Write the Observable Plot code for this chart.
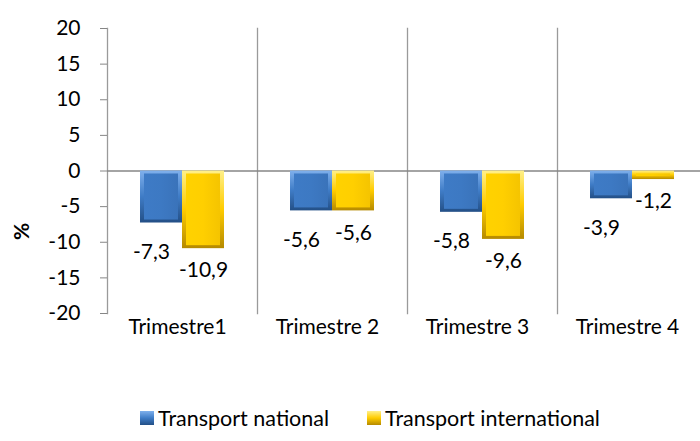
<!DOCTYPE html>
<html>
<head>
<meta charset="utf-8">
<script src="https://cdn.jsdelivr.net/npm/d3@7"></script>
<script src="https://cdn.jsdelivr.net/npm/@observablehq/plot@0.6"></script>
<style>
  html, body { margin: 0; padding: 0; background: #fff; }
  body { width: 700px; height: 441px; overflow: hidden; font-family: Lato, "Open Sans", sans-serif; }
  #legend { display: flex; justify-content: center; align-items: center; padding-top: 46px; font-size: 21.5px; color: #000; line-height: 24px; padding-left: 40px; }
  .item { display: flex; align-items: center; margin: 0 19px; }
  .key { width: 14px; height: 14px; margin-right: 4px; box-sizing: border-box; }
</style>
</head>
<body>
<div id="chart"></div>
<div id="legend"></div>
<script>
const quarters = ["Trimestre1", "Trimestre 2", "Trimestre 3", "Trimestre 4"];
const seriesNames = ["Transport national", "Transport international"];
const national = [-7.3, -5.6, -5.8, -3.9];
const international = [-10.9, -5.6, -9.6, -1.2];
const yTicks = [-20, -15, -10, -5, 0, 5, 10, 15, 20];

const fmt = v => d3.format(".1f")(v).replace(".", ",").replace("−", "-");
const rows = [];
quarters.forEach((q, i) => {
  rows.push({quarter: q, series: seriesNames[0], value: national[i]});
  rows.push({quarter: q, series: seriesNames[1], value: international[i]});
});

const outerFill = {[seriesNames[0]]: "url(#gBlueOuter)", [seriesNames[1]]: "url(#gYellowOuter)"};
const innerFill = {[seriesNames[0]]: "url(#gBlueInner)", [seriesNames[1]]: "url(#gYellowInner)"};
const FS = 21;

const plot = Plot.plot({
  width: 700,
  height: 360,
  marginTop: 28,
  marginBottom: 47,
  marginLeft: 107,
  marginRight: -7,
  style: {fontFamily: "Lato, 'Open Sans', sans-serif", fontSize: FS + "px", color: "#000", background: "transparent", overflow: "visible"},
  fx: {domain: quarters, padding: 0, label: null},
  x: {domain: seriesNames, paddingInner: 0, paddingOuter: 0.765, axis: null},
  y: {domain: [-20, 20], label: null},
  marks: [
    Plot.frame({anchor: "left", stroke: "#9a9a9a", strokeWidth: 1.3}),
    Plot.ruleY([0], {stroke: "#868686", strokeWidth: 1.5}),
    Plot.barY(rows, {fx: "quarter", x: "series", y1: 0, y2: "value", fill: d => outerFill[d.series]}),
    Plot.barY(rows, {fx: "quarter", x: "series", y1: 0, y2: "value", fill: d => innerFill[d.series], insetLeft: 4, insetRight: 4, insetTop: 3, insetBottom: 3}),
    Plot.text(rows.filter(d => d.series === seriesNames[0]), {fx: "quarter", x: "series", y: "value", text: d => fmt(d.value), dy: 29, dx: -10, fontSize: FS, fill: "#000"}),
    Plot.text(rows.filter(d => d.series === seriesNames[1]), {fx: "quarter", x: "series", y: "value", text: d => fmt(d.value), dy: 22, dx: 0, fontSize: FS, fill: "#000"}),
    Plot.axisY({ticks: yTicks, tickFormat: d => String(d).replace("−", "-"), tickSize: 7, tickPadding: 20, stroke: "#868686", fill: "#000", label: null, fontSize: FS}),
    Plot.axisFx({anchor: "bottom", tickSize: 0, tickPadding: 6, label: null, fontSize: FS, fill: "#000", dx: -5}),
    Plot.text(["%"], {frameAnchor: "left", facetAnchor: "left", dx: -85, dy: 69, rotate: -90, fontWeight: "bold", fontSize: FS, fill: "#000"})
  ]
});

const defs = d3.select(plot).insert("defs", ":first-child");
function vgrad(id, stops) {
  const g = defs.append("linearGradient").attr("id", id).attr("x1", 0).attr("y1", 0).attr("x2", 0).attr("y2", 1);
  stops.forEach(([o, c]) => g.append("stop").attr("offset", o).attr("stop-color", c));
}
function hgrad(id, stops) {
  const g = defs.append("linearGradient").attr("id", id).attr("x1", 0).attr("y1", 0).attr("x2", 1).attr("y2", 0);
  stops.forEach(([o, c]) => g.append("stop").attr("offset", o).attr("stop-color", c));
}
vgrad("gBlueOuter", [[0, "#7fb0ec"], [0.5, "#3f7cc6"], [1, "#234f86"]]);
hgrad("gBlueInner", [[0, "#3e7bc6"], [0.5, "#3d79c3"], [1, "#3a73ba"]]);
vgrad("gYellowOuter", [[0, "#fff08a"], [0.5, "#ffcc00"], [1, "#b58a00"]]);
hgrad("gYellowInner", [[0, "#ffd200"], [0.5, "#ffcf00"], [1, "#f5c400"]]);

document.getElementById("chart").appendChild(plot);

const legend = document.getElementById("legend");
const keyBg = {
  [seriesNames[0]]: "linear-gradient(#7fb0ec, #3f7cc6 50%, #234f86)",
  [seriesNames[1]]: "linear-gradient(#fff08a, #ffcc00 50%, #b58a00)"
};
seriesNames.forEach(s => {
  const item = document.createElement("div");
  item.className = "item";
  const key = document.createElement("span");
  key.className = "key";
  key.style.background = keyBg[s];
  const label = document.createElement("span");
  label.textContent = s;
  item.appendChild(key);
  item.appendChild(label);
  legend.appendChild(item);
});
</script>
</body>
</html>
